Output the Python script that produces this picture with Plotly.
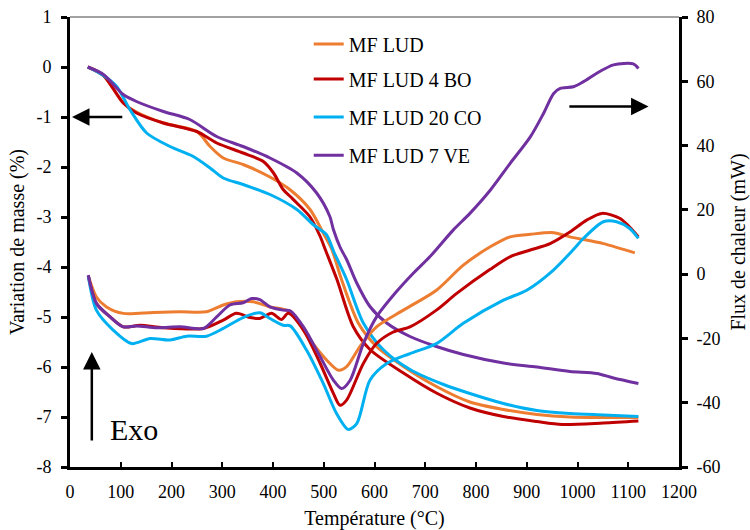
import plotly.graph_objects as go

# ---------------- data ----------------
series_names = ["MF LUD", "MF LUD 4 BO", "MF LUD 20 CO", "MF LUD 7 VE"]
series_colors = ["#ED7D31", "#C00000", "#00B0F0", "#7030A0"]

# mass variation (%) – left axis
tg_lud_x = [35, 66, 105, 131, 184, 250, 276, 302, 341, 394, 433, 473, 499, 516, 535, 568, 604, 657, 722, 788, 854, 920, 985, 1051, 1120]
tg_lud_y = [0, -0.17, -0.72, -0.9, -1.12, -1.29, -1.59, -1.82, -1.95, -2.2, -2.45, -2.85, -3.32, -3.65, -4.25, -5.12, -5.59, -5.99, -6.39, -6.7, -6.85, -6.95, -7.0, -7.01, -7.01]

tg_bo_x = [35, 66, 105, 131, 184, 250, 289, 341, 381, 401, 420, 434, 447, 473, 493, 503, 526, 558, 591, 657, 722, 788, 854, 920, 970, 1051, 1120]
tg_bo_y = [0, -0.17, -0.72, -0.92, -1.12, -1.29, -1.52, -1.72, -1.89, -2.12, -2.45, -2.59, -2.72, -3.0, -3.39, -3.65, -4.25, -5.19, -5.65, -6.12, -6.52, -6.82, -6.99, -7.09, -7.15, -7.12, -7.08]

tg_co_x = [35, 66, 92, 118, 151, 197, 243, 276, 302, 341, 394, 447, 479, 505, 520, 545, 578, 617, 670, 736, 788, 854, 920, 985, 1051, 1120]
tg_co_y = [0, -0.17, -0.39, -0.85, -1.32, -1.59, -1.79, -2.02, -2.22, -2.35, -2.55, -2.85, -3.15, -3.35, -3.7, -4.25, -5.12, -5.65, -6.05, -6.35, -6.53, -6.73, -6.87, -6.93, -6.96, -6.99]

tg_ve_x = [35, 66, 105, 131, 184, 236, 289, 341, 394, 447, 486, 512, 519, 532, 545, 565, 591, 624, 670, 722, 775, 854, 920, 985, 1038, 1071, 1120]
tg_ve_y = [0, -0.15, -0.55, -0.69, -0.89, -1.05, -1.39, -1.59, -1.82, -2.12, -2.52, -2.99, -3.25, -3.6, -3.85, -4.32, -4.79, -5.12, -5.39, -5.59, -5.75, -5.92, -6.0, -6.09, -6.13, -6.22, -6.33]

# heat flow (mW) – right axis
dsc_lud_x = [36, 52, 72, 105, 164, 217, 269, 302, 328, 361, 394, 433, 473, 506, 529, 545, 571, 604, 657, 722, 775, 828, 867, 907, 953, 985, 1051, 1113]
dsc_lud_y = [-0.5, -7.1, -10.2, -12.2, -11.9, -11.7, -11.7, -9.6, -8.6, -8.6, -10.2, -11.7, -20.5, -26.8, -29.9, -28.8, -22.6, -16.4, -11.2, -5.0, 2.8, 8.5, 11.6, 12.4, 12.9, 11.6, 9.5, 6.6]

dsc_bo_x = [36, 52, 79, 105, 138, 184, 263, 302, 328, 355, 374, 397, 417, 430, 460, 493, 519, 532, 545, 578, 604, 637, 670, 722, 762, 828, 867, 907, 946, 985, 1018, 1048, 1084, 1120]
dsc_bo_y = [-0.5, -9.1, -13.3, -16.4, -15.9, -16.7, -16.9, -14.3, -12.2, -13.5, -13.8, -12.2, -14.1, -12.2, -17.4, -27.8, -37.1, -40.8, -39.2, -27.8, -21.6, -18.0, -16.4, -11.2, -6.0, 1.5, 5.4, 7.5, 9.5, 13.1, 16.8, 18.9, 17.3, 11.6]

dsc_co_x = [36, 52, 85, 121, 158, 197, 230, 269, 302, 341, 374, 394, 420, 434, 466, 499, 525, 548, 565, 591, 624, 670, 722, 775, 854, 900, 952, 991, 1011, 1051, 1077, 1103, 1120]
dsc_co_y = [-0.5, -11.2, -17.4, -21.6, -20.0, -20.5, -19.3, -19.3, -16.9, -13.5, -12.0, -13.8, -15.9, -16.1, -23.6, -34.0, -43.3, -48.3, -46.5, -33.0, -27.8, -24.7, -21.6, -15.3, -8.1, -5.0, 1.2, 7.5, 11.0, 16.3, 16.3, 14.2, 11.1]

dsc_ve_x = [36, 52, 79, 105, 131, 171, 217, 263, 289, 315, 341, 358, 374, 394, 420, 434, 460, 493, 519, 535, 552, 578, 604, 643, 676, 709, 755, 788, 828, 867, 907, 933, 953, 966, 992, 1012, 1038, 1071, 1110, 1120]
dsc_ve_y = [-0.3, -9.1, -13.3, -16.4, -16.1, -16.7, -16.4, -16.9, -13.3, -9.6, -8.9, -7.6, -7.9, -10.2, -11.2, -11.4, -16.4, -25.7, -33.0, -35.6, -33.0, -21.6, -13.3, -5.5, 0.2, 5.4, 13.7, 18.9, 26.1, 34.4, 42.7, 50.0, 56.2, 57.8, 58.3, 59.9, 62.5, 65.1, 65.4, 64.0]

x_ticks = list(range(0, 1300, 100))
left_ticks = list(range(-8, 2))
right_ticks = list(range(-60, 100, 20))

tg_sets = [(tg_lud_x, tg_lud_y), (tg_bo_x, tg_bo_y), (tg_co_x, tg_co_y), (tg_ve_x, tg_ve_y)]
dsc_sets = [(dsc_lud_x, dsc_lud_y), (dsc_bo_x, dsc_bo_y), (dsc_co_x, dsc_co_y), (dsc_ve_x, dsc_ve_y)]

FONT = "Liberation Serif, Times New Roman, serif"

fig = go.Figure()
legends = ["legend", "legend2", "legend3", "legend4"]
for i, name in enumerate(series_names):
    c = series_colors[i]
    fig.add_trace(go.Scatter(x=dsc_sets[i][0], y=dsc_sets[i][1], mode="lines", yaxis="y2",
                             line=dict(color=c, width=3, shape="spline", smoothing=0.8),
                             showlegend=False, hoverinfo="skip"))
for i, name in enumerate(series_names):
    c = series_colors[i]
    fig.add_trace(go.Scatter(x=tg_sets[i][0], y=tg_sets[i][1], mode="lines", name=name,
                             line=dict(color=c, width=3, shape="spline", smoothing=0.8),
                             legend=legends[i]))

legend_rows_y = [0.94, 0.862, 0.778, 0.693]
leg_common = dict(x=0.392, xanchor="left", yanchor="middle", bgcolor="rgba(0,0,0,0)",
                  font=dict(family=FONT, size=20, color="black"), borderwidth=0)

layout_legends = {}
for i, lg in enumerate(legends):
    layout_legends[lg] = dict(leg_common, y=legend_rows_y[i])

axis_font = dict(family=FONT, size=18, color="black")
title_font = dict(family=FONT, size=20, color="black")

fig.update_layout(
    width=750, height=530,
    margin=dict(l=70, r=71, t=17, b=63, autoexpand=False),
    plot_bgcolor="white", paper_bgcolor="white",
    showlegend=True,
    xaxis=dict(range=[0, 1200], tickvals=x_ticks, ticktext=[str(v) for v in x_ticks],
               ticks="inside", ticklen=5, tickwidth=2, tickcolor="black", automargin=False,
               ticklabelstandoff=6,
               showline=True, linewidth=3, linecolor="black", showgrid=False, zeroline=False,
               tickfont=axis_font, title=dict(text="Température (°C)", font=title_font, standoff=12)),
    yaxis=dict(range=[-8, 1], tickvals=left_ticks, ticktext=[str(v) for v in left_ticks],
               ticks="outside", ticklen=6, tickwidth=3, tickcolor="black", automargin=False,
               ticklabelstandoff=6,
               showline=True, linewidth=3, linecolor="black", showgrid=False, zeroline=False,
               tickfont=axis_font, title=dict(text="Variation de masse (%)", font=title_font, standoff=7)),
    yaxis2=dict(range=[-60, 80], tickvals=right_ticks, ticktext=[str(v) for v in right_ticks],
                overlaying="y", side="right", anchor="x", automargin=False,
                ticks="outside", ticklen=6, tickwidth=3, tickcolor="black",
                ticklabelstandoff=5,
                showline=True, linewidth=3, linecolor="black", showgrid=False, zeroline=False,
                tickfont=axis_font, title=dict(text="Flux de chaleur (mW)", font=title_font, standoff=14)),
    **layout_legends,
)

# top border line
fig.add_shape(type="line", xref="paper", yref="paper", x0=0, x1=1, y0=1, y1=1,
              line=dict(color="#444444", width=1))

# arrows
fig.add_annotation(x=4, y=-1, ax=106, ay=-1, xref="x", yref="y", axref="x", ayref="y",
                   showarrow=True, arrowhead=2, arrowsize=1.4, arrowwidth=2.5, arrowcolor="black", text="")
fig.add_annotation(x=1140, y=-0.79, ax=981, ay=-0.79, xref="x", yref="y", axref="x", ayref="y",
                   showarrow=True, arrowhead=2, arrowsize=1.4, arrowwidth=2.5, arrowcolor="black", text="")
fig.add_annotation(x=43, y=-5.7, ax=43, ay=-7.5, xref="x", yref="y", axref="x", ayref="y",
                   showarrow=True, arrowhead=2, arrowsize=1.4, arrowwidth=2.5, arrowcolor="black", text="")
fig.add_annotation(x=126, y=-7.25, xref="x", yref="y", text="Exo", showarrow=False,
                   font=dict(family=FONT, size=30, color="black"))

fig.write_html("out.html", config={"displayModeBar": False},
               post_script="document.body.style.margin='0';")
